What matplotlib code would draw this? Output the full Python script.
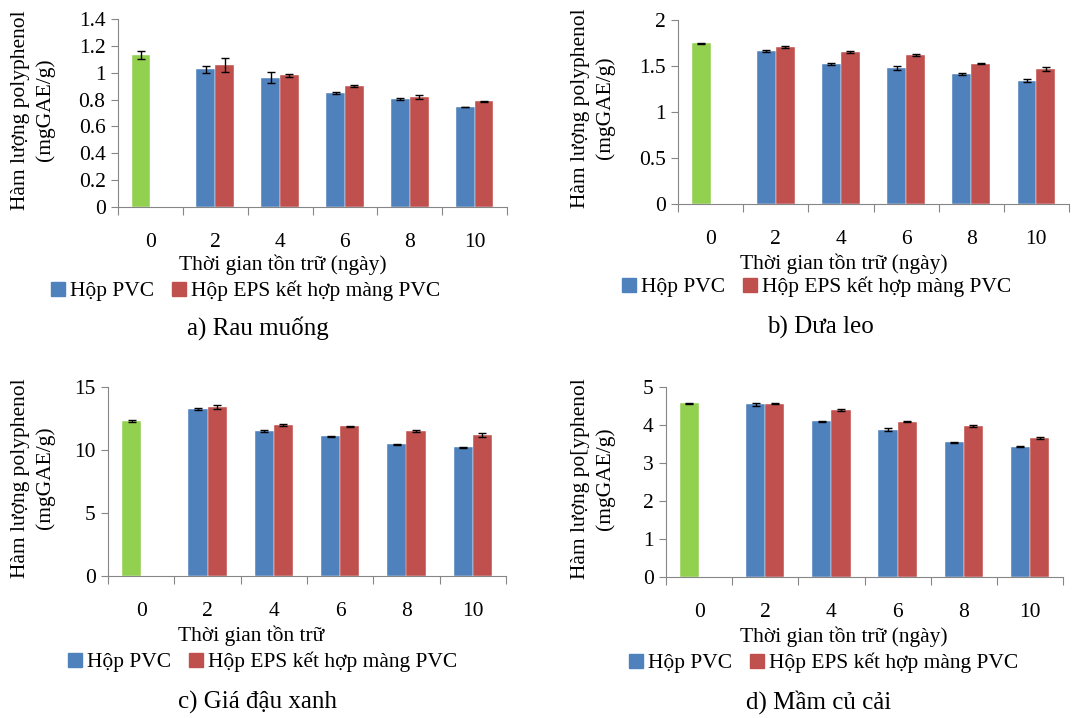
import numpy as np
import matplotlib
matplotlib.use('Agg')
import matplotlib.pyplot as plt
from matplotlib.patches import Patch

plt.rcParams['font.family'] = ['Liberation Serif', 'DejaVu Serif']

days = ['0', '2', '4', '6', '8', '10']
series_names = ['Hộp PVC', 'Hộp EPS kết hợp màng PVC']
titles = ['a) Rau muống', 'b) Dưa leo', 'c) Giá đậu xanh', 'd) Mầm củ cải']
xlabels = ['Thời gian tồn trữ (ngày)', 'Thời gian tồn trữ (ngày)',
           'Thời gian tồn trữ', 'Thời gian tồn trữ (ngày)']
ylabels = ['Hàm lượng polyphenol\n(mgGAE/g)', 'Hàm lượng polyphenol\n(mgGAE/g)',
           'Hàm lượng polyphenol\n(mgGAE/g)', 'Hàm lượng po[yphenol\n(mgGAE/g)']

# day 0 (fresh) values
day0 = [1.133, 1.746, 12.30, 4.57]
day0_err = [0.03, 0.005, 0.05, 0.02]

# days 2..10
pvc = [
    [1.026, 0.962, 0.847, 0.807, 0.745],
    [1.663, 1.525, 1.475, 1.413, 1.341],
    [13.25, 11.50, 11.08, 10.44, 10.20],
    [4.54, 4.10, 3.87, 3.54, 3.43],
]
pvc_err = [
    [0.025, 0.04, 0.007, 0.007, 0.003],
    [0.01, 0.01, 0.02, 0.01, 0.02],
    [0.06, 0.05, 0.06, 0.05, 0.06],
    [0.04, 0.015, 0.04, 0.02, 0.02],
]
eps = [
    [1.056, 0.981, 0.902, 0.822, 0.787],
    [1.707, 1.652, 1.620, 1.525, 1.464],
    [13.44, 12.01, 11.87, 11.50, 11.16],
    [4.56, 4.39, 4.09, 3.97, 3.66],
]
eps_err = [
    [0.05, 0.01, 0.01, 0.015, 0.003],
    [0.007, 0.01, 0.015, 0.005, 0.02],
    [0.15, 0.08, 0.05, 0.05, 0.15],
    [0.015, 0.02, 0.02, 0.02, 0.02],
]
ymax = [1.4, 2, 15, 5]
ystep = [0.2, 0.5, 5, 1]

BLUE, RED, GREEN = '#4F81BD', '#C0504D', '#92D050'
AXC = '#868686'
FS = 15.5

W, H = 1075, 718
fig = plt.figure(figsize=(W / 100, H / 100), dpi=100)

def fx(px):
    return px / W

def fy(py):
    return 1 - py / H

# pixel layout: (left, right, top, bottom)
boxes = [(118, 507, 19, 207), (678, 1069, 20, 204),
         (108, 506, 387, 576), (666, 1063, 387, 577)]
ylab_pos = [(33, 110), (593, 108), (33, 478), (593, 479)]
xlab_pos = [(283, 265), (844, 264), (251, 636), (844, 637)]
leg_pos = [(51, 291), (622, 287), (68, 662), (629, 663)]
title_pos = [(258, 328), (820, 327), (257, 702), (819, 702)]

w = 0.29
x = np.arange(len(days))
for i in range(4):
    l, r, t, b = boxes[i]
    ax = fig.add_axes([fx(l), fy(b), (r - l) / W, (b - t) / H])
    ekw = dict(ecolor='black', elinewidth=1, capsize=3, capthick=1)
    ax.bar(x[0] - w / 2, day0[i], w, color=GREEN, yerr=day0_err[i], error_kw=ekw,
           edgecolor='white', linewidth=0.3)
    ax.bar(x[1:] - w / 2, pvc[i], w, color=BLUE, yerr=pvc_err[i], error_kw=ekw,
           edgecolor='white', linewidth=0.3)
    ax.bar(x[1:] + w / 2, eps[i], w, color=RED, yerr=eps_err[i], error_kw=ekw,
           edgecolor='white', linewidth=0.3)
    ax.set_xlim(-0.5, len(days) - 0.5)
    ax.set_ylim(0, ymax[i])
    ax.set_yticks(np.arange(0, ymax[i] + ystep[i] / 2, ystep[i]))
    ax.set_yticklabels(['{:g}'.format(round(v, 2)) for v in ax.get_yticks()])
    ax.set_xticks(np.arange(-0.5, len(days), 1.0))
    ax.set_xticklabels([])
    ax.set_xticks(x, minor=True)
    ax.set_xticklabels(days, minor=True)
    ax.tick_params(axis='x', which='major', length=6, color=AXC, direction='out')
    ax.tick_params(axis='x', which='minor', length=0, pad=19, labelsize=FS)
    ax.tick_params(axis='y', length=5, color=AXC, labelsize=FS, pad=4)
    for s in ['top', 'right']:
        ax.spines[s].set_visible(False)
    for s in ['left', 'bottom']:
        ax.spines[s].set_color(AXC)
    ax.set_facecolor('none')

    fig.text(fx(ylab_pos[i][0]), fy(ylab_pos[i][1]), ylabels[i], rotation=90,
             ha='center', va='center', fontsize=FS, linespacing=1.3)
    fig.text(fx(xlab_pos[i][0]), fy(xlab_pos[i][1]), xlabels[i],
             ha='center', va='center', fontsize=FS)
    handles = [Patch(color=BLUE), Patch(color=RED)]
    fig.legend(handles, series_names, loc='center left', ncol=2, frameon=False,
               bbox_to_anchor=(fx(leg_pos[i][0]), fy(leg_pos[i][1])),
               borderpad=0, borderaxespad=0, handlelength=0.65, handleheight=0.65,
               handletextpad=0.25, columnspacing=0.8, fontsize=FS)
    fig.text(fx(title_pos[i][0]), fy(title_pos[i][1]), titles[i],
             ha='center', va='center', fontsize=18)

fig.savefig('out.png', dpi=100)
